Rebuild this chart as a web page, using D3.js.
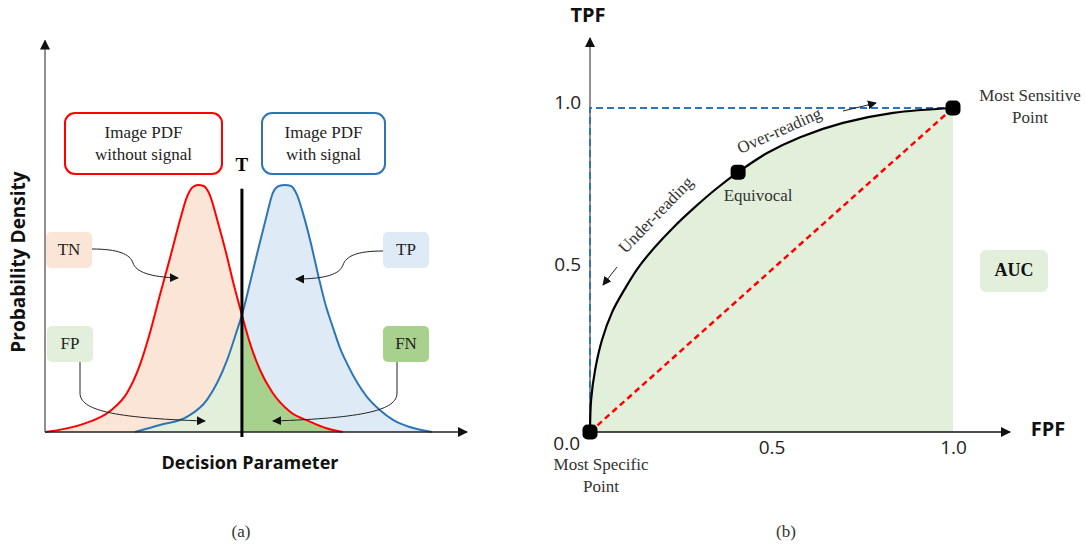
<!DOCTYPE html>
<html>
<head>
<meta charset="utf-8">
<script src="https://cdn.jsdelivr.net/npm/d3@7"></script>
<style>
  body { margin: 0; background: #fff; }
  .serif { font-family: "Liberation Serif", "Times New Roman", serif; fill: #222; }
  .sans { font-family: "Open Sans", "Liberation Sans", sans-serif; fill: #111; }
</style>
</head>
<body>
<svg id="chart" width="1086" height="550"></svg>
<script>
// ---- panel (a): decision parameter (threshold T = 0) vs density (peak = 1)
const threshold = 0;
const noSignalPdf = [
    [-4.9, 0], [-3.96, 0.032], [-3.28, 0.085], [-2.86, 0.158], [-2.54, 0.271],
    [-2.29, 0.401], [-2.04, 0.555], [-1.79, 0.704], [-1.54, 0.858], [-1.37, 0.951],
    [-1.22, 0.992], [-1.09, 1.0], [-0.95, 0.996], [-0.8, 0.96], [-0.6, 0.85],
    [-0.4, 0.729], [-0.2, 0.595], [0, 0.474], [0.2, 0.36], [0.45, 0.251],
    [0.75, 0.162], [1.19, 0.083], [1.69, 0.042], [2.1, 0.015], [2.51, 0]
];
const signalPdf = [
    [-2.66, 0], [-2.04, 0.028], [-1.37, 0.061], [-0.87, 0.13], [-0.37, 0.291],
    [-0.12, 0.413], [0, 0.474], [0.2, 0.603], [0.4, 0.737], [0.6, 0.866],
    [0.77, 0.968], [0.92, 0.996], [1.07, 1.0], [1.22, 0.996], [1.37, 0.96],
    [1.54, 0.874], [1.72, 0.761], [1.89, 0.64], [2.09, 0.51], [2.26, 0.425],
    [2.44, 0.34], [2.61, 0.279], [2.86, 0.202], [3.11, 0.142], [3.43, 0.089],
    [3.76, 0.049], [4.18, 0.02], [4.73, 0]
];
const regionLabels = ["TN", "TP", "FP", "FN"];

// ---- panel (b): ROC curve
const rocCurve = [
    [0, 0], [0.003, 0.099], [0.014, 0.191], [0.033, 0.284], [0.061, 0.37],
    [0.094, 0.438], [0.132, 0.506], [0.179, 0.571], [0.231, 0.633], [0.289, 0.694],
    [0.347, 0.75], [0.408, 0.802], [0.488, 0.861], [0.579, 0.91], [0.697, 0.954],
    [0.835, 0.985], [1, 1]
];
const rocPoints = [
    { name: "Most Specific Point", fpf: 0, tpf: 0 },
    { name: "Equivocal", fpf: 0.408, tpf: 0.802 },
    { name: "Most Sensitive Point", fpf: 1, tpf: 1 }
];
const tpfTicks = [0.5, 1.0];
const fpfTicks = [0.5, 1.0];

const svg = d3.select("#chart");
const defs = svg.append("defs");

const addMarker = (id, size) => {
    defs.append("marker")
        .attr("id", id)
        .attr("viewBox", "0 0 10 10")
        .attr("refX", 9)
        .attr("refY", 5)
        .attr("markerUnits", "userSpaceOnUse")
        .attr("markerWidth", size)
        .attr("markerHeight", size)
        .attr("orient", "auto")
        .append("path")
        .attr("d", "M0,0 L10,5 L0,10 z")
        .attr("fill", "#111");
};
addMarker("arr", 9);
addMarker("axArr", 10);

// ================= panel (a) =================
const xA = d3.scaleLinear().domain([-4.9, 5.6]).range([45, 467]);
const yA = d3.scaleLinear().domain([0, 1]).range([432, 185]);

const gA = svg.append("g");

defs.append("clipPath").attr("id", "leftT")
    .append("rect").attr("x", 0).attr("y", 0).attr("width", xA(threshold)).attr("height", 550);
defs.append("clipPath").attr("id", "rightT")
    .append("rect").attr("x", xA(threshold)).attr("y", 0).attr("width", 543 - xA(threshold)).attr("height", 550);

const pdfArea = d3.area()
    .x(d => xA(d[0]))
    .y0(yA(0))
    .y1(d => yA(d[1]))
    .curve(d3.curveMonotoneX);
const pdfLine = d3.line()
    .x(d => xA(d[0]))
    .y(d => yA(d[1]))
    .curve(d3.curveMonotoneX);

// fills: peach (TN), light blue (TP), light green (FP), dark green (FN)
gA.append("path").datum(noSignalPdf).attr("d", pdfArea).attr("fill", "#fbe5d6").attr("clip-path", "url(#leftT)");
gA.append("path").datum(signalPdf).attr("d", pdfArea).attr("fill", "#deebf7").attr("clip-path", "url(#rightT)");
gA.append("path").datum(signalPdf).attr("d", pdfArea).attr("fill", "#e2efda").attr("clip-path", "url(#leftT)");
gA.append("path").datum(noSignalPdf).attr("d", pdfArea).attr("fill", "#a9d18e").attr("clip-path", "url(#rightT)");

gA.append("path").datum(noSignalPdf).attr("d", pdfLine)
    .attr("fill", "none").attr("stroke", "#ff0000").attr("stroke-width", 2);
gA.append("path").datum(signalPdf).attr("d", pdfLine)
    .attr("fill", "none").attr("stroke", "#2e75b6").attr("stroke-width", 2);

// axes with arrows
gA.append("line")
    .attr("x1", xA(-4.9)).attr("y1", yA(0)).attr("x2", xA(5.6)).attr("y2", yA(0))
    .attr("stroke", "#222").attr("stroke-width", 1.3).attr("marker-end", "url(#axArr)");
gA.append("line")
    .attr("x1", xA(-4.9)).attr("y1", yA(0)).attr("x2", xA(-4.9)).attr("y2", yA(1.585))
    .attr("stroke", "#555").attr("stroke-width", 1.3).attr("marker-end", "url(#axArr)");

// threshold
gA.append("line")
    .attr("x1", xA(threshold)).attr("x2", xA(threshold))
    .attr("y1", yA(0.985)).attr("y2", yA(0) + 5)
    .attr("stroke", "#000").attr("stroke-width", 3);
gA.append("text").attr("class", "serif")
    .attr("x", xA(threshold)).attr("y", 167)
    .attr("text-anchor", "middle").attr("dominant-baseline", "middle")
    .attr("font-size", 19).attr("font-weight", "bold").style("fill", "#000")
    .text("T");

// PDF title boxes
const titleBoxes = [
    { x: 65, w: 157, color: "#ff0000", lines: ["Image PDF", "without signal"] },
    { x: 262, w: 123, color: "#2e75b6", lines: ["Image PDF", "with signal"] }
];
titleBoxes.forEach(b => {
    gA.append("rect")
        .attr("x", b.x).attr("y", 113).attr("width", b.w).attr("height", 61)
        .attr("rx", 10).attr("fill", "#fff").attr("stroke", b.color).attr("stroke-width", 2);
    b.lines.forEach((t, i) => {
        gA.append("text").attr("class", "serif")
            .attr("x", b.x + b.w / 2).attr("y", 134 + i * 22)
            .attr("text-anchor", "middle").attr("dominant-baseline", "middle")
            .attr("font-size", 17).text(t);
    });
});

// region label boxes + connectors
const regionBoxes = [
    { x: 46, y: 232, fill: "#fbe5d6", path: "M92,249 C118,249 130,254 133,263 C136,272 150,277 178,278" },
    { x: 383, y: 232, fill: "#deebf7", path: "M383,251 C357,251 346,256 343,265 C340,274 326,279 296,279" },
    { x: 47, y: 326, fill: "#e2efda", path: "M80,362 L80,393 C80,410 112,418 205,421" },
    { x: 383, y: 326, fill: "#a9d18e", path: "M397,362 L397,393 C397,410 365,418 273,421" }
];
regionBoxes.forEach((b, i) => {
    gA.append("rect")
        .attr("x", b.x).attr("y", b.y).attr("width", 46).attr("height", 36)
        .attr("rx", 5).attr("fill", b.fill);
    gA.append("text").attr("class", "serif")
        .attr("x", b.x + 23).attr("y", b.y + 19)
        .attr("text-anchor", "middle").attr("dominant-baseline", "middle")
        .attr("font-size", 17).text(regionLabels[i]);
    gA.append("path").attr("d", b.path)
        .attr("fill", "none").attr("stroke", "#222").attr("stroke-width", 1)
        .attr("marker-end", "url(#arr)");
});

gA.append("text").attr("class", "sans")
    .attr("transform", "translate(20,262) rotate(-90)")
    .attr("text-anchor", "middle").attr("dominant-baseline", "middle")
    .attr("font-size", 19).attr("font-weight", "bold")
    .text("Probability Density");
gA.append("text").attr("class", "sans")
    .attr("x", 250).attr("y", 464)
    .attr("text-anchor", "middle").attr("dominant-baseline", "middle")
    .attr("font-size", 18).attr("font-weight", "bold")
    .text("Decision Parameter");

// ================= panel (b) =================
const xB = d3.scaleLinear().domain([0, 1]).range([590, 953]);
const yB = d3.scaleLinear().domain([0, 1]).range([432, 108]);
const gB = svg.append("g");

const rocArea = d3.area()
    .x(d => xB(d[0]))
    .y0(yB(0))
    .y1(d => yB(d[1]))
    .curve(d3.curveCatmullRom.alpha(0.5));
const rocLine = d3.line()
    .x(d => xB(d[0]))
    .y(d => yB(d[1]))
    .curve(d3.curveCatmullRom.alpha(0.5));

gB.append("path").datum(rocCurve).attr("d", rocArea).attr("fill", "#e2efda");

// axes
gB.append("line")
    .attr("x1", xB(0)).attr("y1", yB(0)).attr("x2", xB(1.157)).attr("y2", yB(0))
    .attr("stroke", "#111").attr("stroke-width", 1.3).attr("marker-end", "url(#axArr)");
gB.append("line")
    .attr("x1", xB(0)).attr("y1", yB(0)).attr("x2", xB(0)).attr("y2", yB(1.216))
    .attr("stroke", "#555").attr("stroke-width", 1.3).attr("marker-end", "url(#axArr)");

const xAxisB = d3.axisBottom(xB).tickValues(fpfTicks).tickSize(0).tickPadding(9).tickFormat(d3.format(".1f"));
const yAxisB = d3.axisLeft(yB).tickValues(tpfTicks).tickSize(0).tickPadding(9).tickFormat(d3.format(".1f"));
const xg = gB.append("g").attr("transform", `translate(0,${yB(0)})`).call(xAxisB);
const yg = gB.append("g").attr("transform", `translate(${xB(0)},-6)`).call(yAxisB);
[xg, yg].forEach(g => {
    g.select(".domain").remove();
    g.selectAll("text")
        .attr("font-family", "'Open Sans', 'Liberation Sans', sans-serif")
        .attr("font-size", 19).attr("fill", "#222");
});
gB.append("text").attr("class", "sans")
    .attr("x", xB(0) - 10).attr("y", yB(0) + 13)
    .attr("text-anchor", "end").attr("dominant-baseline", "middle")
    .attr("font-size", 19).style("fill", "#222").text(d3.format(".1f")(0));

gB.append("text").attr("class", "sans")
    .attr("x", xB(0) - 2).attr("y", 17)
    .attr("text-anchor", "middle").attr("dominant-baseline", "middle")
    .attr("font-size", 20).attr("font-weight", "bold").text("TPF");
gB.append("text").attr("class", "sans")
    .attr("x", 1048).attr("y", 431)
    .attr("text-anchor", "middle").attr("dominant-baseline", "middle")
    .attr("font-size", 20).attr("font-weight", "bold").text("FPF");

// blue dashed perfect-classifier lines
gB.append("path")
    .attr("d", `M${xB(0)},${yB(0)} L${xB(0)},${yB(1)} L${xB(1)},${yB(1)}`)
    .attr("fill", "none").attr("stroke", "#2e75b6").attr("stroke-width", 2)
    .attr("stroke-dasharray", "7,4");
// red dashed chance line
gB.append("line")
    .attr("x1", xB(0)).attr("y1", yB(0)).attr("x2", xB(1)).attr("y2", yB(1))
    .attr("stroke", "#ff0000").attr("stroke-width", 2.5).attr("stroke-dasharray", "6,4");

gB.append("path").datum(rocCurve).attr("d", rocLine)
    .attr("fill", "none").attr("stroke", "#000").attr("stroke-width", 2.2);

gB.selectAll(".roc-pt").data(rocPoints).enter()
    .append("rect").attr("class", "roc-pt")
    .attr("x", d => xB(d.fpf) - 7.5).attr("y", d => yB(d.tpf) - 7.5)
    .attr("width", 15).attr("height", 15).attr("rx", 5)
    .attr("fill", "#000");

// point labels
const ptLabel = (lines, x, y) => {
    lines.forEach((t, i) => {
        gB.append("text").attr("class", "serif")
            .attr("x", x).attr("y", y + i * 22)
            .attr("text-anchor", "middle").attr("dominant-baseline", "middle")
            .attr("font-size", 17).style("fill", "#333").text(t);
    });
};
ptLabel(["Most Specific", "Point"], xB(0) + 11, yB(0) + 34);
ptLabel(["Equivocal"], xB(0.408) + 20, yB(0.802) + 25);
ptLabel(["Most Sensitive", "Point"], xB(1) + 77, yB(1) - 11);

// reading-direction annotations
gB.append("text").attr("class", "serif")
    .attr("transform", "translate(657,216) rotate(-46)")
    .attr("text-anchor", "middle").attr("dominant-baseline", "middle")
    .attr("font-size", 17).style("fill", "#333").text("Under-reading");
gB.append("text").attr("class", "serif")
    .attr("transform", "translate(780,132) rotate(-24)")
    .attr("text-anchor", "middle").attr("dominant-baseline", "middle")
    .attr("font-size", 17).style("fill", "#333").text("Over-reading");
gB.append("line")
    .attr("x1", 617).attr("y1", 267).attr("x2", 603).attr("y2", 285)
    .attr("stroke", "#222").attr("stroke-width", 1).attr("marker-end", "url(#arr)");
gB.append("line")
    .attr("x1", 843).attr("y1", 111).attr("x2", 876).attr("y2", 103)
    .attr("stroke", "#222").attr("stroke-width", 1).attr("marker-end", "url(#arr)");

// AUC box
gB.append("rect")
    .attr("x", 980).attr("y", 250).attr("width", 68).attr("height", 42)
    .attr("rx", 6).attr("fill", "#e2efda");
gB.append("text").attr("class", "serif")
    .attr("x", 1014).attr("y", 272)
    .attr("text-anchor", "middle").attr("dominant-baseline", "middle")
    .attr("font-size", 18).attr("font-weight", "bold").style("fill", "#111").text("AUC");

// captions
[["(a)", 241], ["(b)", 786]].forEach(c => {
    svg.append("text").attr("class", "serif")
        .attr("x", c[1]).attr("y", 533)
        .attr("text-anchor", "middle").attr("dominant-baseline", "middle")
        .attr("font-size", 17).style("fill", "#333").text(c[0]);
});
</script>
</body>
</html>
